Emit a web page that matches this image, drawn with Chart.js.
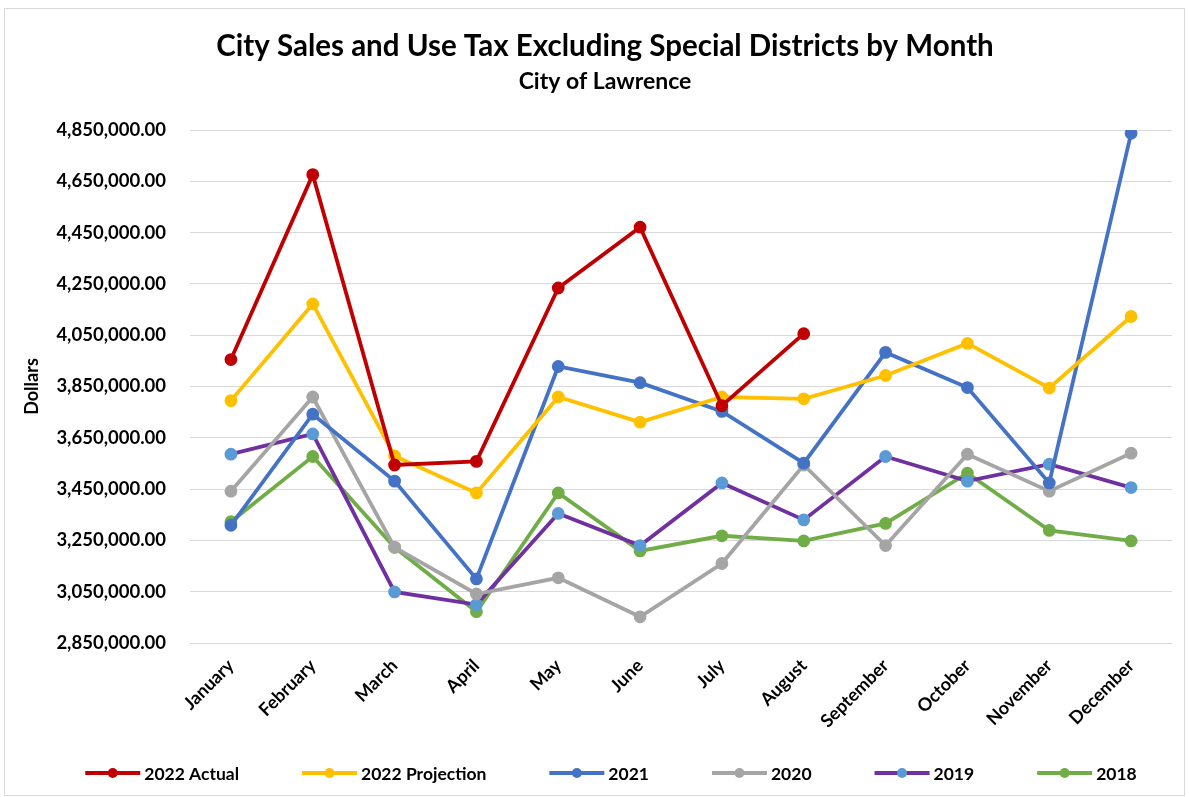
<!DOCTYPE html>
<html>
<head>
<meta charset="utf-8">
<script src="https://cdn.jsdelivr.net/npm/chart.js@4/dist/chart.umd.min.js"></script>
<style>
  html, body { margin: 0; padding: 0; background: #ffffff; }
  #wrap { position: absolute; left: 0; top: 0; width: 1189px; height: 797px; }
</style>
</head>
<body>
<div id="wrap"><canvas id="c" width="1189" height="797"></canvas></div>
<script>
const months = ["January","February","March","April","May","June","July","August","September","October","November","December"];
const actual2022 = [3955000, 4676000, 3544000, 3558000, 4234000, 4471000, 3775000, 4056000, null, null, null, null];
const projection2022 = [3795000, 4172000, 3579000, 3435000, 3809000, 3711000, 3809000, 3802000, 3893000, 4018000, 3844000, 4123000];
const y2021 = [3309000, 3742000, 3481000, 3100000, 3928000, 3865000, 3753000, 3551000, 3983000, 3846000, 3474000, 4837000];
const y2020 = [3442000, 3809000, 3223000, 3041000, 3104000, 2952000, 3160000, 3544000, 3230000, 3586000, 3442000, 3590000];
const y2019 = [3586000, 3665000, 3049000, 3000000, 3355000, 3230000, 3474000, 3330000, 3577000, 3481000, 3547000, 3456000];
const y2018 = [3323000, 3577000, 3223000, 2972000, 3435000, 3209000, 3268000, 3248000, 3316000, 3512000, 3289000, 3248000];
const yMin = 2850000, yMax = 4850000, yStep = 200000;

const FONT = "Lato, 'Open Sans', sans-serif";

function ds(label, data, line, marker) {
  return {
    label, data,
    borderColor: line, backgroundColor: line,
    pointBackgroundColor: marker, pointBorderColor: marker,
    markerColor: marker,
    borderWidth: 3.8, pointRadius: 4.5, pointHoverRadius: 4.5,
    tension: 0, spanGaps: false
  };
}

const frame = {
  id: 'frame',
  beforeDraw(chart) {
    const ctx = chart.ctx;
    ctx.save();
    ctx.fillStyle = '#ffffff';
    ctx.fillRect(0, 0, chart.width, chart.height);
    ctx.strokeStyle = '#d9d9d9';
    ctx.lineWidth = 1;
    ctx.strokeRect(4.5, 8.5, chart.width - 9, chart.height - 10);
    ctx.restore();
  }
};

// Legend drawn as one row: line segment with marker, then the dataset label
const lineLegend = {
  id: 'lineLegend',
  afterDraw(chart, args, opts) {
    const ctx = chart.ctx;
    const sets = chart.data.datasets;
    ctx.save();
    ctx.font = `bold ${opts.fontSize}px ${FONT}`;
    const widths = sets.map(d => opts.lineLen + opts.textGap + ctx.measureText(d.label).width);
    const total = widths.reduce((a, b) => a + b, 0) + opts.itemGap * (sets.length - 1);
    let x = opts.centerX - total / 2;
    const y = opts.y;
    sets.forEach((d, i) => {
      ctx.strokeStyle = d.borderColor;
      ctx.lineWidth = 4;
      ctx.beginPath();
      ctx.moveTo(x, y);
      ctx.lineTo(x + opts.lineLen, y);
      ctx.stroke();
      ctx.beginPath();
      ctx.fillStyle = d.markerColor;
      ctx.arc(x + opts.lineLen / 2, y, 5, 0, Math.PI * 2);
      ctx.fill();
      ctx.fillStyle = '#000000';
      ctx.textBaseline = 'middle';
      ctx.textAlign = 'left';
      ctx.fillText(d.label, x + opts.lineLen + opts.textGap, y + 1);
      x += widths[i] + opts.itemGap;
    });
    ctx.restore();
  }
};

new Chart(document.getElementById('c'), {
  type: 'line',
  data: {
    labels: months,
    datasets: [
      ds('2022 Actual', actual2022, '#C00000', '#C00000'),
      ds('2022 Projection', projection2022, '#FFC000', '#FFC000'),
      ds('2021', y2021, '#4472C4', '#4472C4'),
      ds('2020', y2020, '#A5A5A5', '#A5A5A5'),
      ds('2019', y2019, '#7030A0', '#5B9BD5'),
      ds('2018', y2018, '#70AD47', '#70AD47')
    ]
  },
  options: {
    responsive: false,
    animation: false,
    layout: { padding: { left: 38, right: 17, top: 29, bottom: 54 } },
    plugins: {
      title: {
        display: true,
        text: 'City Sales and Use Tax Excluding Special Districts by Month',
        color: '#000000',
        font: { family: FONT, size: 29.5, weight: 'bold' },
        padding: { top: 0, bottom: 3 }
      },
      subtitle: {
        display: true,
        text: 'City of Lawrence',
        color: '#000000',
        font: { family: FONT, size: 23, weight: 'bold' },
        padding: { top: 0, bottom: 35 }
      },
      legend: { display: false },
      lineLegend: { fontSize: 17.5, lineLen: 55, textGap: 4, itemGap: 63, centerX: 611, y: 773 },
      tooltip: { enabled: false }
    },
    scales: {
      x: {
        offset: true,
        grid: { display: false },
        border: { display: false },
        ticks: {
          color: '#000000',
          maxRotation: 45, minRotation: 45,
          font: { family: FONT, size: 18, weight: 'bold' },
          padding: 4
        },
        afterFit(s) { s.height = 100; }
      },
      y: {
        min: yMin, max: yMax,
        grid: { color: '#d9d9d9', lineWidth: 1, drawTicks: false },
        border: { display: false },
        ticks: {
          stepSize: yStep,
          color: '#000000',
          padding: 24,
          font: { family: FONT, size: 18.5, weight: 'bold' },
          callback: v => Number(v).toLocaleString('en-US', { minimumFractionDigits: 2, maximumFractionDigits: 2 })
        },
        title: {
          display: true,
          text: 'Dollars',
          color: '#000000',
          font: { family: FONT, size: 18, weight: 'bold' },
          padding: { top: -17, bottom: 4 }
        },
        afterFit(s) { s.width = 152; }
      }
    }
  },
  plugins: [frame, lineLegend]
});
</script>
</body>
</html>
